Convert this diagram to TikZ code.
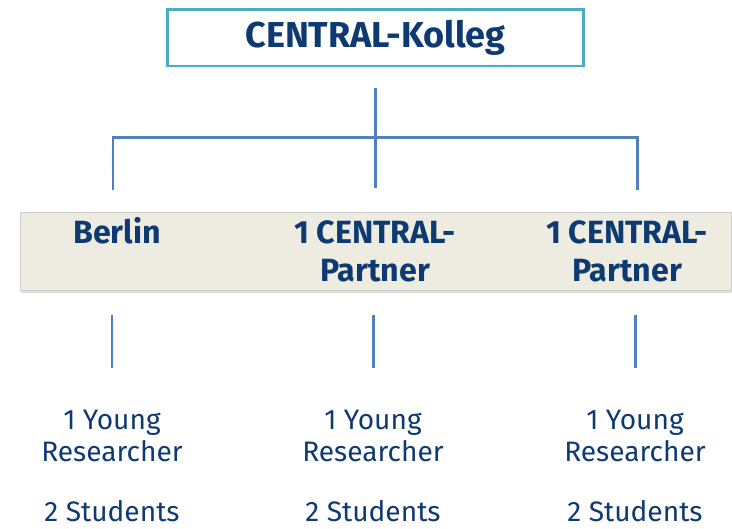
\documentclass[tikz,border=0pt]{standalone}
\usepackage{fontspec}
\setmainfont{Fira Sans}
\usepackage{tikz}
\usepackage{xcolor}
\usetikzlibrary{shadows,positioning}

\definecolor{navy}{HTML}{0E3A72}
\definecolor{linkblue}{HTML}{4F81BD}
\definecolor{teal}{HTML}{4BACC6}
\definecolor{sand}{HTML}{EEECE1}

\tikzset{
  kollegbox/.style={draw=teal, line width=1.7pt, fill=white, minimum width=8.34cm,
    minimum height=1.14cm, font=\fontsize{20.5}{24}\selectfont\bfseries, text=navy},
  bandbox/.style={draw=black!20, line width=0.4pt, fill=sand, minimum width=14.22cm,
    minimum height=1.56cm, drop shadow={shadow xshift=0.6pt, shadow yshift=-1.6pt, opacity=0.25}},
  parttext/.style={font=\fontsize{18.3}{21.5}\selectfont\bfseries, text=navy, align=center, inner sep=0pt},
  lowtext/.style={font=\fontsize{16}{18.2}\selectfont, text=navy, align=center, inner sep=0pt},
  branch/.style={draw=linkblue, line width=1.7pt}
}

\begin{document}
\begin{tikzpicture}[x=0.02cm, y=-0.02cm]
\useasboundingbox (0,0) rectangle (732,528);
% title
\node[kollegbox] (kolleg) at (375.5,37.5) {CENTRAL-Kolleg};
% tree
\coordinate (top) at (375,88);
\coordinate (hub) at (375,137);
\coordinate (lcorner) at (113,137);
\coordinate (rcorner) at (637,137);
\coordinate (lend) at (113,190);
\coordinate (mend) at (375,188);
\coordinate (rend) at (637,190);
\draw[branch] (lend) -- (lcorner) -- (rcorner) -- (rend);
\draw[branch] (top) -- (mend);
% partners
\node[bandbox] (band) at (375.5,251) {};
\node[parttext, anchor=base] (berlin) at (117,243) {Berlin};
\node[parttext, anchor=base] (partnerA) at (375,281) {1 CENTRAL-\\Partner};
\node[parttext, anchor=base] (partnerB) at (627,281) {1 CENTRAL-\\Partner};
% staff
\foreach \x/\n in {112/a,373/b,635/c}{
  \coordinate (\n top) at (\x,315);
  \coordinate (\n bot) at (\x,368);
  \draw[branch] (\n top) -- (\n bot);
  \node[lowtext, anchor=base] (\n young) at (\x,461) {1 Young\\Researcher};
  \node[lowtext, anchor=base] (\n stud) at (\x,521) {2 Students};
}
\end{tikzpicture}
\end{document}
